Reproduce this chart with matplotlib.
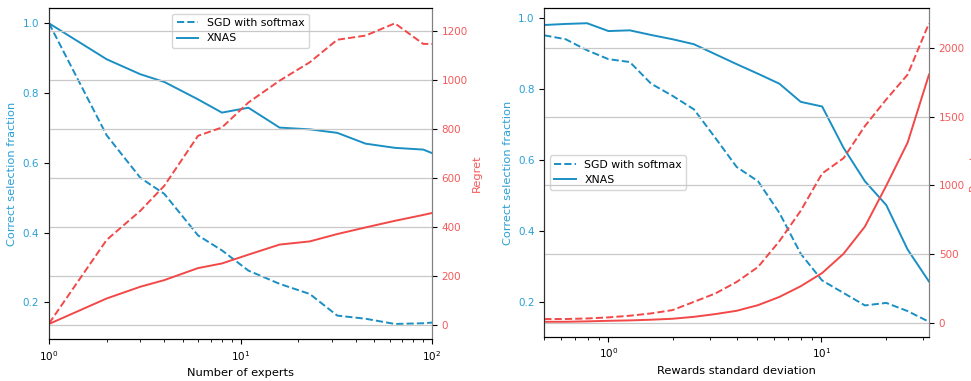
import matplotlib
matplotlib.use("Agg")
import matplotlib.pyplot as plt

# ---- Left panel data: number of experts ----
experts = [1, 2, 3, 4, 6, 8, 11, 16, 23, 32, 45, 64, 90, 100]
xnas_frac_exp = [1.0, 0.897, 0.854, 0.832, 0.782, 0.744, 0.758, 0.701, 0.696, 0.686, 0.655, 0.643, 0.638, 0.628]
sgd_frac_exp = [1.0, 0.679, 0.557, 0.511, 0.392, 0.349, 0.291, 0.253, 0.224, 0.162, 0.153, 0.138, 0.140, 0.142]
sgd_regret_exp = [5, 346, 465, 567, 771, 805, 907, 996, 1071, 1163, 1180, 1230, 1146, 1146]
xnas_regret_exp = [3, 107, 155, 182, 231, 250, 286, 327, 340, 370, 397, 424, 448, 456]

# ---- Right panel data: rewards standard deviation ----
stds = [0.5, 0.63, 0.794, 1.0, 1.26, 1.587, 2.0, 2.52, 3.175, 4.0, 5.04, 6.35,
        8.0, 10.08, 12.7, 16.0, 20.16, 25.4, 32.0]
xnas_frac_std = [0.979, 0.982, 0.984, 0.962, 0.964, 0.951, 0.939, 0.925, 0.897, 0.869,
                 0.842, 0.814, 0.763, 0.750, 0.634, 0.540, 0.473, 0.348, 0.258]
sgd_frac_std = [0.950, 0.939, 0.908, 0.883, 0.875, 0.814, 0.780, 0.742, 0.662, 0.580,
                0.540, 0.451, 0.336, 0.261, 0.226, 0.191, 0.198, 0.175, 0.145]
sgd_regret_std = [27, 27, 31, 39, 51, 68, 92, 152, 213, 297, 406, 594, 816, 1087,
                  1198, 1432, 1626, 1807, 2181]
xnas_regret_std = [7, 7, 10, 14, 17, 22, 29, 43, 63, 87, 128, 188, 266, 362, 502,
                   700, 998, 1312, 1807]

BLUE = '#1a8fc3'
BLUE_TXT = '#2a9fd6'
RED = '#f24848'
RED_TXT = '#f55a5a'
TICK_FS = 7.5
LABEL_FS = 8.2
LEG_FS = 7.8

plt.rcParams['font.family'] = ['DejaVu Sans']

fig = plt.figure(figsize=(9.71, 3.81), dpi=100)


def panel(rect, x, sgd_f, xnas_f, sgd_r, xnas_r, xlabel, xlim, legend_loc):
    ax1 = fig.add_axes(rect)
    ax1.plot(x, sgd_f, '--', color=BLUE, lw=1.4, label='SGD with softmax')
    ax1.plot(x, xnas_f, '-', color=BLUE, lw=1.4, label='XNAS')
    ax1.set_xscale('log')
    ax1.set_xlim(*xlim)
    ax1.set_xlabel(xlabel, fontsize=LABEL_FS)
    ax1.set_ylabel('Correct selection fraction', color=BLUE_TXT, fontsize=LABEL_FS)
    ax1.tick_params(axis='y', colors='black', labelcolor=BLUE_TXT, labelsize=TICK_FS)
    ax1.tick_params(axis='x', labelsize=TICK_FS)
    leg = ax1.legend(loc=legend_loc, fontsize=LEG_FS, framealpha=0.8)
    leg.get_frame().set_edgecolor('#cccccc')

    ax2 = ax1.twinx()
    ax2.plot(x, sgd_r, '--', color=RED, lw=1.4)
    ax2.plot(x, xnas_r, '-', color=RED, lw=1.4)
    ax2.set_ylabel('Regret', color=RED_TXT, fontsize=LABEL_FS, labelpad=3)
    ax2.tick_params(axis='y', labelcolor=RED_TXT, labelsize=TICK_FS)
    ax2.grid(True, axis='y', color='#c8c8c8', lw=0.9)
    ax2.set_xlim(*xlim)
    for a in (ax1, ax2):
        a.spines['right'].set_color('#808080')
        a.spines['left'].set_color('#303030')
    return ax1, ax2


panel([49 / 971, (381 - 339) / 381, 383 / 971, 330.7 / 381],
      experts, sgd_frac_exp, xnas_frac_exp, sgd_regret_exp, xnas_regret_exp,
      'Number of experts', (1, 100), 'upper center')

panel([544.3 / 971, (381 - 336.7) / 381, 384.7 / 971, 328.4 / 381],
      stds, sgd_frac_std, xnas_frac_std, sgd_regret_std, xnas_regret_std,
      'Rewards standard deviation', (0.5, 32), 'center left')

fig.savefig('out.png', dpi=100)
